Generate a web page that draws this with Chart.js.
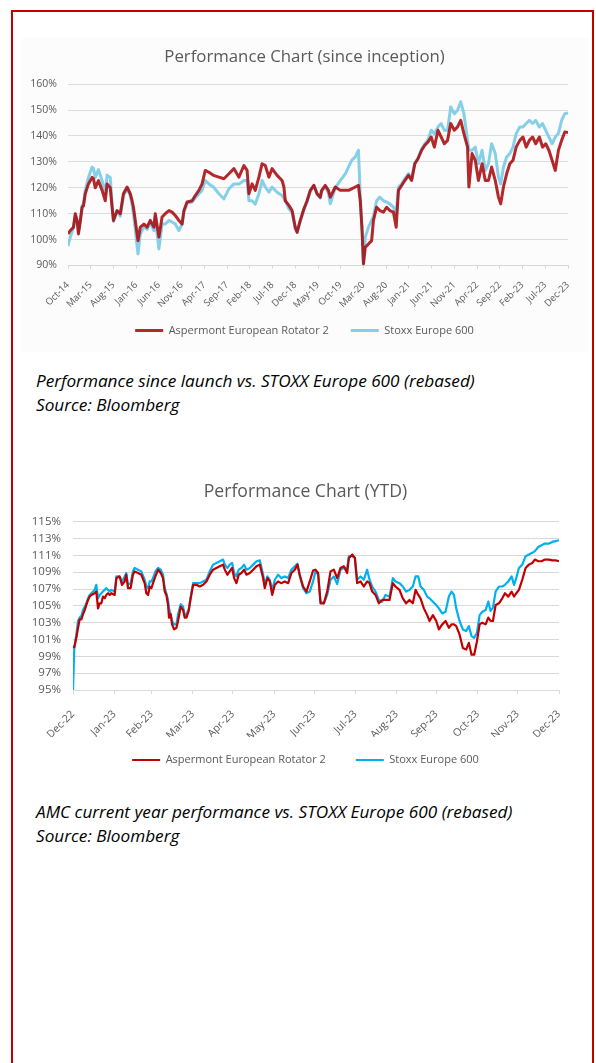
<!DOCTYPE html>
<html lang="en">
<head>
<meta charset="UTF-8">
<title>Performance Charts</title>
<script src="https://cdn.jsdelivr.net/npm/chart.js"></script>
<style>
    body { margin: 0; background: #fff; font-family: "Open Sans", sans-serif; }
    #frame { position: absolute; left: 11px; top: 10px; width: 579px; height: 1100px;
             border: 2.5px solid #c00000; border-bottom: none; }
    #panel1 { position: absolute; left: 22px; top: 38px; width: 568px; height: 314px; background: #fcfcfc; }
    .box { position: absolute; left: 22px; }
    .caption { position: absolute; left: 36px; font-style: italic; font-size: 17.2px; line-height: 24px; color: #000; }
</style>
</head>
<body>
<div id="frame"></div>
<div id="panel1"></div>
<div class="box" style="top:38px"><canvas id="chart1" width="568" height="314"></canvas></div>
<div class="caption" style="top:369px">Performance since launch vs. STOXX Europe 600 (rebased)<br>Source: Bloomberg</div>
<div class="box" style="top:470px"><canvas id="chart2" width="568" height="320"></canvas></div>
<div class="caption" style="top:800px">AMC current year performance vs. STOXX Europe 600 (rebased)<br>Source: Bloomberg</div>

<script>
// ---- chart 1: since inception, x = months after Oct-14 ----
const tickMonths1 = [0,5,10,15,20,25,30,35,40,45,50,55,60,65,70,75,80,85,90,95,100,105,110];
const tickLabels1 = ['Oct-14','Mar-15','Aug-15','Jan-16','Jun-16','Nov-16','Apr-17','Sep-17','Feb-18','Jul-18','Dec-18','May-19',
    'Oct-19','Mar-20','Aug-20','Jan-21','Jun-21','Nov-21','Apr-22','Sep-22','Feb-23','Jul-23','Dec-23'];

const months1 = [0,0.5,1.2,1.6,2,2.3,2.7,3.1,3.4,3.8,4.5,5.3,5.6,6,6.7,7.5,8.2,8.6,9.3,9.7,
    10,10.8,11.5,12.2,13,13.7,14.1,14.4,14.8,15.4,15.9,16.7,17.4,18.1,18.9,19.2,20,20.7,21.4,22.2,
    22.9,23.6,24.4,25.1,25.5,26.2,27.3,28,28.8,29.5,30.2,31,32,33.2,34.3,35.4,36.5,37.6,38.7,39.4,
    39.8,40.5,41.2,42,42.7,43.4,44.2,44.9,46,47.1,47.5,47.8,48.6,49.3,50,50.4,51.1,51.9,52.6,53.3,
    54.1,54.8,55.5,55.8,56.6,57.3,57.7,58.8,59.9,61,61.7,62.4,63.2,63.9,64.3,64.7,65,65.4,66.1,66.8,
    67.2,67.9,68.6,69.4,70.1,70.8,71.6,72.2,72.7,73.4,74.1,74.9,75.6,76.3,77,77.8,78.5,79.2,79.9,80.6,
    81.4,82.1,82.8,83.5,84.2,85,85.7,86.4,87.1,87.9,88.2,88.9,89.6,90.3,91.1,91.8,92.5,93.2,94,94.7,
    95.2,95.8,96.5,97.2,97.9,98.6,99.4,100.1,100.8,101.5,102.2,102.9,103.7,104.4,105.1,105.8,106.5,107.2,107.9,108.6,
    109.3,110];
const rotator1 = [102.2,103.5,104.8,110,107.4,102.2,107,112.5,113,117.7,121.5,124,123.5,120,122.8,119,115,121.5,120,112.5,
    107.4,111.2,110,117.7,120.3,117.7,115,112.5,107.4,99.6,104.8,106,104.8,107.4,104.8,110,101,108.7,110,111.2,
    110.6,109.3,107.4,106,111.2,114.5,115,117,119,121.5,126.7,126,124.8,124.1,123.5,125.4,127.4,124.1,128.6,126.7,
    117.7,121.5,119,124.1,129.3,128.6,124.1,127.4,124.8,122.8,120.3,115,113.2,111.2,104.8,102.8,107.4,111.9,115,119,
    120.9,117.7,116.4,119,120.9,119,116.4,120.3,119,119,119,119.6,120.3,120.9,115,103.5,90.6,97,98.3,99.6,
    107.4,112.5,111.2,110.6,112.5,111.2,110.6,104.8,119,120.9,122.8,124.8,122.8,129.3,131.2,134.5,136.4,137.7,139.6,135.7,
    142.2,139.6,137,138.3,144.8,142.2,143.5,146,140.9,135.7,120.3,133.2,130.6,122.8,129.3,122.8,122.8,128,122.8,116.4,
    113.8,120.3,125.4,129.3,130.6,135.7,138.3,139.6,135.7,138.3,139.6,137,139.6,135.7,137,134.5,130.6,126.7,134.5,138.3,
    141.5,141.3];
const stoxx1 = [97.5,101,104.5,109,107,103,107.5,113,114,119,124,128,127.5,124,127,122.8,117.7,124.8,124,113.5,
    107,111,109,117,119.5,117,113.5,110,104,94.5,102,105,104,106.5,103.5,108.5,96.4,106,106,107.4,
    106.8,106,103.5,106,110.5,114,114.5,116,117.7,119,122.8,121.5,120.3,117.7,115.7,119.6,121.5,121.5,122.8,122.8,
    115,115,113.7,117.7,122.8,120.3,118.3,120.3,118.3,117,116,115,111.9,110.5,104,103,107,111.5,114.5,118.5,
    121,117.5,116,118.5,120.5,118,113.8,120,122.8,125.4,128,130.6,131.9,134.5,116.4,103,91,100.9,104.8,107.4,
    109,115,116.4,115,114.5,113.8,112.5,110,120.3,121.5,123.5,125.5,123.5,129.5,131.5,135,137,138.5,142.2,140.9,
    143.5,144.8,142.2,142.2,151.2,148.6,149.9,153.2,148.6,138.3,134.5,134.5,135.7,129.3,134.5,126.7,129.3,137,133.2,124.1,
    121.5,128,131.9,133.2,135.7,140.9,143.5,143.5,144.8,146,144.8,146,143.5,144.8,142.2,139.6,137,139.6,141,146,
    148.6,148.9];

// ---- chart 2: YTD, x = days after 31 Dec 2022 ----
const tickDays2 = [0,31,59,90,120,151,181,212,243,273,304,334,365];
const tickLabels2 = ['Dec-22','Jan-23','Feb-23','Mar-23','Apr-23','May-23','Jun-23','Jul-23','Aug-23','Sep-23','Oct-23','Nov-23','Dec-23'];

const days2 = [0,1,2.5,3.8,5,6.3,7.5,8.8,10,11.3,12.5,13.8,16.3,17.5,18.8,20,21.3,22.5,23.8,25,
    26.3,27.6,28.8,31.3,32.6,35,36.8,38.8,40,41.3,43.3,45,46.3,48.8,51.3,53.8,55.1,56.4,57.6,58.9,
    60.1,61.9,63.9,65.9,67.6,68.9,70.1,71.4,72.1,73.4,74.4,75.9,77.7,78.9,80.9,82.7,83.9,85.2,86.9,88.4,
    90.2,92.7,95.2,97.7,100.2,102.7,105.2,107.7,110.2,112.7,114,116,117.7,119.5,121,122.7,124.5,126.5,128.5,130.3,
    132.8,135.3,137.8,140.3,142.8,144,146,147.8,149.6,151.6,154,156.6,159,161.6,164,166.6,168.6,170.3,172.8,175.3,
    177.8,180.3,182.1,184.1,185.9,188.4,190.9,193.4,195.9,198.4,200.9,203.4,205.9,207.2,209.7,211.7,213.4,215.9,218.4,220.9,
    222.7,224.7,227.2,229.7,232.2,234.7,237.7,240.2,242.2,245.2,247.7,250.2,252.7,255.2,257.3,259.3,261,263.5,266,267.8,
    270.3,272.8,274.8,277.3,279.8,282.3,284.3,286.1,287.8,290.3,292.8,295.3,297.3,299.3,301.3,303.4,305.4,307.4,309.9,311.9,
    313.6,315.4,317.4,319.9,322.4,324.4,326.9,329.4,331.2,332.9,334.9,337.4,339.9,342.4,344.9,346.9,349.4,351.9,354.4,357.5,
    360,362.5,365];
const rotator2 = [100.1,100.1,101.2,102.4,103.4,103.4,104,104.5,105.1,105.7,106.1,106.3,106.5,106.7,104.7,105.3,105.3,106.1,105.9,106.3,
    106.5,106.3,106.5,106.3,108.3,108.5,107.5,107.9,108.7,107.1,107.1,108.7,109.1,108.9,108.7,107.7,106.5,106.3,107.3,107.1,
    107.7,108.5,109.3,108.9,108.3,106.7,106.3,105.1,103.6,104,102.8,102.2,102.4,103.2,104.9,104.5,103.6,103.6,104.4,105.9,
    107.5,107.5,107.3,107.5,107.9,108.7,109.3,109.5,109.7,109.9,109.3,108.7,109.1,109.5,108.3,107.7,108.7,108.9,109.3,108.7,
    108.9,109.3,109.7,109.9,108.3,107.1,108.3,107.9,106.3,107.5,107.9,107.7,107.9,107.7,108.9,109.3,109.9,108.7,107.3,106.7,
    107.9,109.2,109.3,108.9,105.3,105.3,106.7,109.1,109.3,108.3,109.5,109.7,108.9,110.7,111.1,110.7,107.7,107.9,107.3,107.9,
    107.7,106.7,106.3,105.3,105.7,105.7,105.7,107.7,107.3,106.9,105.9,105.3,105.7,105.3,106.9,106.3,105.9,104.7,103.9,103.2,
    103.9,103.2,102.2,102.8,103.2,102.4,102.8,102.8,102.6,101.6,100,99.8,100.6,99.2,99.2,100.8,102.8,103,102.8,103.6,
    103.2,103.2,105.1,105.3,105.9,106.5,106.1,106.7,106.1,106.5,106.9,108.1,109.5,109.9,110.1,110.5,110.3,110.3,110.5,110.5,
    110.4,110.4,110.3];
const stoxx2 = [95,100,101.6,103.2,103.6,103.8,104.5,104.9,105.3,105.9,106.3,106.5,106.9,107.5,105.9,106.3,106.5,106.7,106.9,107.1,
    106.9,106.7,106.9,106.7,108.5,108.5,107.9,108.5,108.9,107.5,107.7,109.1,109.5,109.3,109.1,108.1,107.3,107.1,107.9,107.9,
    108.3,109.1,109.5,109.3,108.7,107.1,106.5,105.7,104.7,103.9,103.2,102.8,102.8,104,105.2,104.9,103.8,104,104.6,106.1,
    107.7,107.7,107.7,107.9,108.1,109.1,109.9,110.1,110.3,110.5,109.9,109.5,109.9,110.1,108.9,108.5,109.3,109.5,109.9,109.3,
    109.5,109.9,110.3,110.4,108.7,107.5,108.5,108.1,106.9,108.1,108.7,108.3,108.5,108.3,109.3,109.7,110,108.5,107.1,106.5,
    106.7,107.9,109.1,108.7,105.5,105.3,106.3,108.1,108.5,107.6,109.3,109.5,109.5,110.9,110.9,110.7,108.1,108.5,108.1,109.3,
    108.1,107.3,106.7,105.7,105.5,106.3,106.1,108.3,107.9,107.7,107.3,106.7,106.9,107.3,108.5,108.5,107.3,106.9,106.1,105.9,
    105.5,105.1,104.7,104.1,104.3,106.1,106.7,106.3,104.7,103.2,102.2,102,102.6,101.4,101.2,101.8,103.9,104.3,104.5,105.5,
    104.4,104.8,106.7,107.3,107.3,107.5,107.9,108.5,107.5,108.3,109.5,109.9,110.9,111.1,111.3,111.5,112,112.2,112.4,112.4,
    112.6,112.7,112.8];

Chart.defaults.font.family = "'Open Sans', sans-serif";
Chart.defaults.color = '#595959';

function pts(xs, ys) {
    return xs.map((x, i) => ({x: x, y: ys[i]}));
}

// fixed axis sizes so the plot area lands where the original has it
function fixWidth(w) {
    return s => { s.width = w; };
}
function fixHeight(h) {
    return s => { s.height = h; s.paddingLeft = 0; s.paddingRight = 0; };
}
function setTicks(values) {
    return s => { s.ticks = values.map(v => ({value: v})); };
}

// title and legend are centred on the whole panel in the original, not on the plot
const placeBoxes = {
    id: 'placeBoxes',
    afterLayout(chart, args, opts) {
        const t = chart.titleBlock;
        const l = chart.legend;
        t.left = opts.left; t.right = opts.right; t.width = opts.right - opts.left;
        l.left = opts.left; l.right = opts.right; l.width = opts.right - opts.left;
        const h = l.height;
        l.top = opts.legendTop; l.bottom = opts.legendTop + h;
    }
};

const chart1 = new Chart(document.getElementById('chart1'), {
    type: 'line',
    data: {
        datasets: [{
            label: 'Aspermont European Rotator 2',
            data: pts(months1, rotator1),
            borderColor: 'rgba(168,10,14,0.88)',
            borderWidth: 3
        }, {
            label: 'Stoxx Europe 600',
            data: pts(months1, stoxx1),
            borderColor: '#86cfe8',
            borderWidth: 3
        }]
    },
    options: {
        responsive: false,
        animation: false,
        devicePixelRatio: 1,
        layout: {padding: {left: 0, right: 22, top: 0, bottom: 1.5}},
        elements: {point: {radius: 0}, line: {tension: 0, borderJoinStyle: 'round'}},
        scales: {
            x: {
                type: 'linear', min: 0, max: 110,
                afterBuildTicks: setTicks(tickMonths1),
                afterFit: fixHeight(42),
                ticks: {
                    autoSkip: false, maxRotation: 45, minRotation: 45, padding: 11,
                    font: {size: 9.5}, color: '#595959',
                    callback: v => tickLabels1[tickMonths1.indexOf(v)]
                },
                grid: {drawOnChartArea: false, tickLength: 3, color: '#d6d6d6'},
                border: {color: '#d6d6d6'}
            },
            y: {
                min: 90, max: 160,
                afterFit: fixWidth(46),
                ticks: {stepSize: 10, padding: 11, font: {size: 10.5}, color: '#595959', callback: v => v + '%'},
                grid: {drawTicks: false, color: '#dcdcdc'},
                border: {display: false}
            }
        },
        plugins: {
            title: {
                display: true, text: 'Performance Chart (since inception)',
                color: '#595959', font: {size: 16.8, weight: 'normal'},
                padding: {top: 9, bottom: 17}
            },
            legend: {
                position: 'bottom',
                labels: {usePointStyle: true, pointStyle: 'line', pointStyleWidth: 28,
                         padding: 22, font: {size: 11}, color: '#595959'}
            },
            placeBoxes: {left: 0, right: 565, legendTop: 265},
            tooltip: {enabled: false}
        }
    },
    plugins: [placeBoxes]
});

const chart2 = new Chart(document.getElementById('chart2'), {
    type: 'line',
    data: {
        datasets: [{
            label: 'Aspermont European Rotator 2',
            data: pts(days2, rotator2),
            borderColor: '#c00000',
            borderWidth: 2.2
        }, {
            label: 'Stoxx Europe 600',
            data: pts(days2, stoxx2),
            borderColor: '#00b0f0',
            borderWidth: 2.2
        }]
    },
    options: {
        responsive: false,
        animation: false,
        devicePixelRatio: 1,
        layout: {padding: {left: 0, right: 31, top: 0, bottom: 2}},
        elements: {point: {radius: 0}, line: {tension: 0, borderJoinStyle: 'round'}},
        scales: {
            x: {
                type: 'linear', min: 0, max: 365,
                afterBuildTicks: setTicks(tickDays2),
                afterFit: fixHeight(47),
                ticks: {
                    autoSkip: false, maxRotation: 45, minRotation: 45, padding: 14,
                    font: {size: 10.5}, color: '#595959',
                    callback: v => tickLabels2[tickDays2.indexOf(v)]
                },
                grid: {drawOnChartArea: false, tickLength: 4, color: '#d9d9d9'},
                border: {color: '#d9d9d9'}
            },
            y: {
                min: 95, max: 115,
                afterFit: fixWidth(51),
                ticks: {stepSize: 2, padding: 12, font: {size: 11.5}, color: '#595959', callback: v => v + '%'},
                grid: {drawTicks: false, color: '#d9d9d9'},
                border: {display: false}
            }
        },
        plugins: {
            title: {
                display: true, text: 'Performance Chart (YTD)',
                color: '#595959', font: {size: 17.6, weight: 'normal'},
                padding: {top: 11.4, bottom: 19.2}
            },
            legend: {
                position: 'bottom',
                labels: {usePointStyle: true, pointStyle: 'line', pointStyleWidth: 28,
                         padding: 30, font: {size: 11}, color: '#595959'}
            },
            placeBoxes: {left: 0, right: 567, legendTop: 254.5},
            tooltip: {enabled: false}
        }
    },
    plugins: [placeBoxes]
});
</script>
</body>
</html>
